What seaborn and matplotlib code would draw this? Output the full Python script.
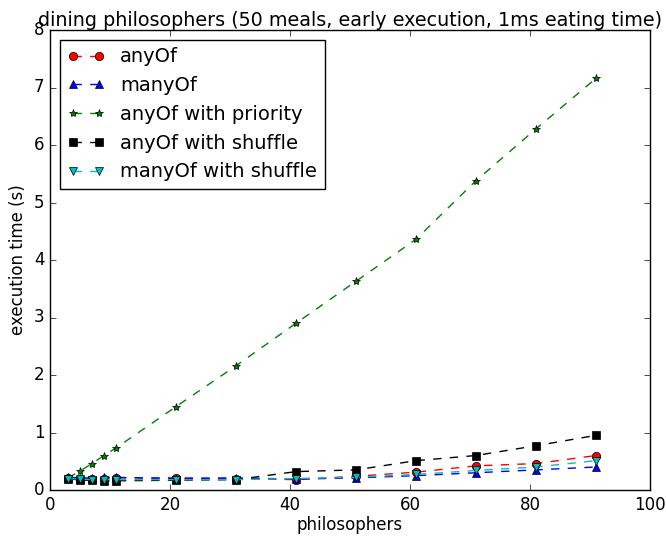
import matplotlib
matplotlib.use("Agg")
import matplotlib.pyplot as plt
import seaborn as sns
import pandas as pd

plt.style.use("classic")

philosophers = [3, 5, 7, 9, 11, 21, 31, 41, 51, 61, 71, 81, 91]
any_of = [0.21, 0.20, 0.20, 0.20, 0.21, 0.21, 0.20, 0.18, 0.24, 0.31, 0.42, 0.46, 0.60]
many_of = [0.22, 0.21, 0.21, 0.22, 0.22, 0.20, 0.21, 0.19, 0.21, 0.25, 0.30, 0.35, 0.40]
any_of_priority = [0.21, 0.33, 0.46, 0.60, 0.73, 1.45, 2.16, 2.90, 3.63, 4.36, 5.38, 6.28, 7.16]
any_of_shuffle = [0.20, 0.17, 0.17, 0.16, 0.16, 0.17, 0.18, 0.32, 0.35, 0.51, 0.60, 0.77, 0.95]
many_of_shuffle = [0.20, 0.19, 0.18, 0.18, 0.18, 0.18, 0.18, 0.20, 0.22, 0.27, 0.34, 0.40, 0.51]

series = [
    ("anyOf", any_of, "r", "o"),
    ("manyOf", many_of, "b", "^"),
    ("anyOf with priority", any_of_priority, "g", "*"),
    ("anyOf with shuffle", any_of_shuffle, "k", "s"),
    ("manyOf with shuffle", many_of_shuffle, "c", "v"),
]

fig = plt.figure(figsize=(6.66, 5.36), dpi=100, facecolor="white")
ax = fig.add_axes([50/666, 1-490/536, 600/666, 460/536])

for name, vals, col, mk in series:
    df = pd.DataFrame({"philosophers": philosophers, "time": vals})
    sns.lineplot(data=df, x="philosophers", y="time", ax=ax, color=col,
                 marker=mk, linestyle="--", label=name, markersize=6,
                 markeredgecolor="k", markeredgewidth=0.5, markerfacecolor=col,
                 linewidth=1)

ax.set_xlim(0, 100)
ax.set_ylim(0, 8)
ax.set_xticks([0, 20, 40, 60, 80, 100])
ax.set_yticks(range(0, 9))
ax.set_xlabel("philosophers", fontsize=12, labelpad=2)
ax.set_ylabel("execution time (s)", fontsize=12)
ax.set_title("dining philosophers (50 meals, early execution, 1ms eating time)", fontsize=13.8, y=1.0, pad=3)
ax.tick_params(labelsize=12)
ax.legend(loc="upper left", fontsize=14, numpoints=2, frameon=True, handlelength=1.9)

fig.savefig("out.png", dpi=100, facecolor="white")
